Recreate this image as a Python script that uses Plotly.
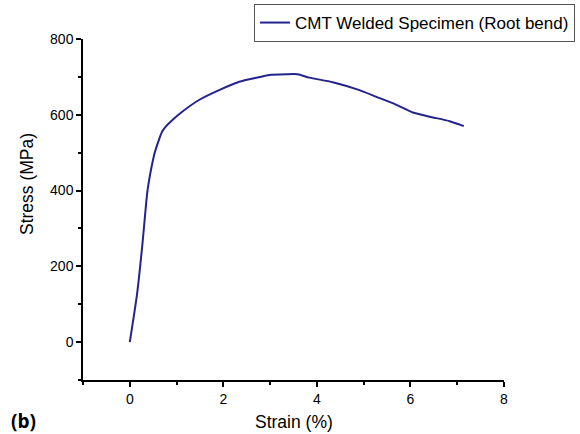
import plotly.graph_objects as go

strain = [0, 0.157, 0.264, 0.371, 0.407, 0.465, 0.529, 0.621, 0.69, 0.764, 0.9, 1.12, 1.48, 1.91, 2.34, 2.76, 2.98, 3.34, 3.59, 3.84, 4.34, 4.91, 5.26, 5.69, 6.05, 6.41, 6.84, 7.14]
stress = [0, 128, 251, 392, 423, 462, 498, 533, 555, 568, 585, 608, 639, 665, 687, 699, 705, 707, 707, 698, 686, 665, 648, 627, 606, 595, 583, 570]
series_name = "CMT Welded Specimen (Root bend)"
x_ticks = [0, 2, 4, 6, 8]
y_ticks = [0, 200, 400, 600, 800]
x_minor = [-1, 1, 3, 5, 7]
y_minor = [-100, 100, 300, 500, 700]

FONT = "Arial, Liberation Sans"
L, R, T, B = 83, 76, 39, 54
W, H = 580, 434
PW, PH = W - L - R, H - T - B

def px(xp):
    return (xp - L) / PW

def py(yp):
    return (H - B - yp) / PH

fig = go.Figure()
fig.add_trace(go.Scatter(x=strain, y=stress, mode="lines", name=series_name,
                         line=dict(color="#23238f", width=2, shape="spline", smoothing=0.6)))

axis_common = dict(showline=True, linecolor="black", linewidth=1.5, ticks="outside",
                   ticklen=5, tickwidth=1.5, tickcolor="black", showgrid=False, zeroline=False,
                   tickfont=dict(family=FONT, size=14, color="black"))
fig.update_layout(
    width=W, height=H,
    margin=dict(l=L, r=R, t=T, b=B, autoexpand=False),
    plot_bgcolor="white", paper_bgcolor="white",
    font=dict(family=FONT, color="black"),
    showlegend=True,
    legend=dict(x=px(575), y=py(4), xanchor="right", yanchor="top",
                bordercolor="#555555", borderwidth=1, bgcolor="white",
                font=dict(size=17, family=FONT, color="black"),
                tracegroupgap=0, itemwidth=30),
    xaxis=dict(range=[-1, 8], tickvals=x_ticks,
               minor=dict(tickvals=x_minor, ticks="outside", ticklen=3, tickwidth=1.5, tickcolor="black"),
               **axis_common),
    yaxis=dict(range=[-100, 800], tickvals=y_ticks,
               minor=dict(tickvals=y_minor, ticks="outside", ticklen=3, tickwidth=1.5, tickcolor="black"),
               **axis_common),
    annotations=[
        dict(text="<b>(b)</b>", x=px(9), y=py(421), xref="paper", yref="paper",
             showarrow=False, font=dict(size=19, family="Open Sans, " + FONT, color="black"),
             xanchor="left", yanchor="middle"),
        dict(text="Strain (%)", x=px(293.5), y=py(422), xref="paper", yref="paper",
             showarrow=False, font=dict(size=17.5, family=FONT, color="black"),
             xanchor="center", yanchor="middle"),
        dict(text="Stress (MPa)", x=px(27), y=py(184), xref="paper", yref="paper",
             showarrow=False, textangle=-90, font=dict(size=17.5, family=FONT, color="black"),
             xanchor="center", yanchor="middle"),
    ]
)
fig.write_html("out.html", config={"displayModeBar": False},
               post_script="document.body.style.margin='0';document.body.style.padding='0';")
